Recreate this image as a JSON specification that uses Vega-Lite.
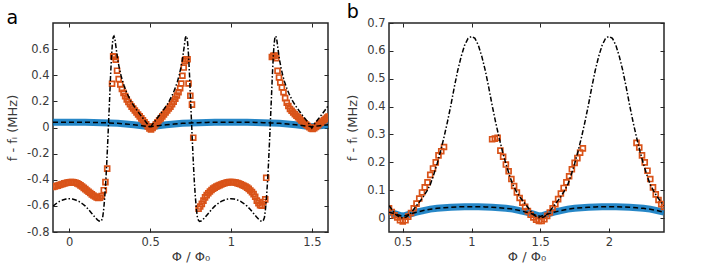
{
 "$schema": "https://vega.github.io/schema/vega-lite/v6.json",
 "background": "white",
 "padding": {"left": 5, "top": 2, "right": 5, "bottom": 2},
 "spacing": 15,
 "config": {
  "view": {"stroke": "#262626", "strokeWidth": 1.5},
  "axis": {"grid": false, "domain": false, "tickSize": -4, "tickColor": "#262626", "tickWidth": 1, "labelFont": "DejaVu Sans", "labelFontSize": 11.5, "labelColor": "#3a3a3a", "titleFont": "DejaVu Sans", "titleFontSize": 13, "titleFontWeight": "normal", "titleColor": "#3a3a3a", "labelPadding": 8, "labelExpr": "replace(format(datum.value, '~g'), '−', '-')"},
  "title": {"anchor": "start", "frame": "bounds", "fontSize": 19, "fontWeight": "normal", "font": "DejaVu Sans", "color": "black", "offset": -5}
 },
 "datasets": {
  "blueA": [
   {"x":-0.1,"y":0.04},{"x":-0.05,"y":0.041},{"x":0,"y":0.041},{"x":0.05,"y":0.041},{"x":0.1,"y":0.04},{"x":0.15,"y":0.039},{"x":0.2,"y":0.037},{"x":0.25,"y":0.035},{"x":0.3,"y":0.032},{"x":0.35,"y":0.027},{"x":0.4,"y":0.021},{"x":0.45,"y":0.014},{"x":0.5,"y":0.006},{"x":0.55,"y":0.014},{"x":0.6,"y":0.021},{"x":0.65,"y":0.027},{"x":0.7,"y":0.032},{"x":0.75,"y":0.035},{"x":0.8,"y":0.037},{"x":0.85,"y":0.039},{"x":0.9,"y":0.04},{"x":0.95,"y":0.041},{"x":1,"y":0.041},{"x":1.05,"y":0.041},{"x":1.1,"y":0.04},{"x":1.15,"y":0.039},{"x":1.2,"y":0.037},{"x":1.25,"y":0.035},{"x":1.3,"y":0.032},{"x":1.35,"y":0.027},{"x":1.4,"y":0.021},{"x":1.45,"y":0.014},{"x":1.5,"y":0.006},{"x":1.55,"y":0.014},{"x":1.6,"y":0.021}
  ],
  "theoryA": [
   {"x":-0.1,"y":-0.602},{"x":-0.08,"y":-0.582},{"x":-0.06,"y":-0.566},{"x":-0.04,"y":-0.555},{"x":-0.02,"y":-0.548},{"x":0,"y":-0.545},{"x":0.02,"y":-0.548},{"x":0.04,"y":-0.555},{"x":0.06,"y":-0.566},{"x":0.08,"y":-0.582},{"x":0.1,"y":-0.602},{"x":0.12,"y":-0.628},{"x":0.14,"y":-0.658},{"x":0.16,"y":-0.688},{"x":0.175,"y":-0.707},{"x":0.185,"y":-0.716},{"x":0.193,"y":-0.719},{"x":0.2,"y":-0.713},{"x":0.207,"y":-0.69},{"x":0.214,"y":-0.62},{"x":0.22,"y":-0.53},{"x":0.226,"y":-0.42},{"x":0.232,"y":-0.28},{"x":0.238,"y":-0.12},{"x":0.244,"y":0.05},{"x":0.25,"y":0.22},{"x":0.256,"y":0.4},{"x":0.262,"y":0.55},{"x":0.267,"y":0.64},{"x":0.272,"y":0.69},{"x":0.277,"y":0.7},{"x":0.282,"y":0.685},{"x":0.29,"y":0.61},{"x":0.3,"y":0.52},{"x":0.31,"y":0.455},{"x":0.32,"y":0.4},{"x":0.33,"y":0.355},{"x":0.34,"y":0.318},{"x":0.35,"y":0.285},{"x":0.36,"y":0.256},{"x":0.37,"y":0.23},{"x":0.38,"y":0.206},{"x":0.39,"y":0.185},{"x":0.4,"y":0.165},{"x":0.42,"y":0.13},{"x":0.44,"y":0.097},{"x":0.46,"y":0.065},{"x":0.48,"y":0.033},{"x":0.49,"y":0.016},{"x":0.5,"y":-0.004},
   {"x":0.51,"y":0.016},{"x":0.52,"y":0.033},{"x":0.54,"y":0.065},{"x":0.56,"y":0.097},{"x":0.58,"y":0.13},{"x":0.6,"y":0.165},{"x":0.61,"y":0.185},{"x":0.62,"y":0.206},{"x":0.63,"y":0.23},{"x":0.64,"y":0.256},{"x":0.65,"y":0.285},{"x":0.66,"y":0.318},{"x":0.67,"y":0.355},{"x":0.68,"y":0.4},{"x":0.69,"y":0.455},{"x":0.7,"y":0.52},{"x":0.71,"y":0.61},{"x":0.718,"y":0.685},{"x":0.723,"y":0.7},{"x":0.728,"y":0.69},{"x":0.733,"y":0.64},{"x":0.738,"y":0.55},{"x":0.744,"y":0.4},{"x":0.75,"y":0.22},{"x":0.756,"y":0.05},{"x":0.762,"y":-0.12},{"x":0.768,"y":-0.28},{"x":0.774,"y":-0.42},{"x":0.78,"y":-0.53},{"x":0.786,"y":-0.62},{"x":0.793,"y":-0.69},{"x":0.8,"y":-0.713},{"x":0.807,"y":-0.719},{"x":0.815,"y":-0.716},{"x":0.825,"y":-0.707},{"x":0.84,"y":-0.688},{"x":0.86,"y":-0.658},{"x":0.88,"y":-0.628},{"x":0.9,"y":-0.602},{"x":0.92,"y":-0.582},{"x":0.94,"y":-0.566},{"x":0.96,"y":-0.555},{"x":0.98,"y":-0.548},{"x":1,"y":-0.545},
   {"x":1.02,"y":-0.548},{"x":1.04,"y":-0.555},{"x":1.06,"y":-0.566},{"x":1.08,"y":-0.582},{"x":1.1,"y":-0.602},{"x":1.12,"y":-0.628},{"x":1.14,"y":-0.658},{"x":1.16,"y":-0.688},{"x":1.175,"y":-0.707},{"x":1.185,"y":-0.716},{"x":1.193,"y":-0.719},{"x":1.2,"y":-0.713},{"x":1.207,"y":-0.69},{"x":1.214,"y":-0.62},{"x":1.22,"y":-0.53},{"x":1.226,"y":-0.42},{"x":1.232,"y":-0.28},{"x":1.238,"y":-0.12},{"x":1.244,"y":0.05},{"x":1.25,"y":0.22},{"x":1.256,"y":0.4},{"x":1.262,"y":0.55},{"x":1.267,"y":0.64},{"x":1.272,"y":0.69},{"x":1.277,"y":0.7},{"x":1.282,"y":0.685},{"x":1.29,"y":0.61},{"x":1.3,"y":0.52},{"x":1.31,"y":0.455},{"x":1.32,"y":0.4},{"x":1.33,"y":0.355},{"x":1.34,"y":0.318},{"x":1.35,"y":0.285},{"x":1.36,"y":0.256},{"x":1.37,"y":0.23},{"x":1.38,"y":0.206},{"x":1.39,"y":0.185},{"x":1.4,"y":0.165},{"x":1.42,"y":0.13},{"x":1.44,"y":0.097},{"x":1.46,"y":0.065},{"x":1.48,"y":0.033},{"x":1.49,"y":0.016},{"x":1.5,"y":-0.004},{"x":1.51,"y":0.016},{"x":1.52,"y":0.033},{"x":1.54,"y":0.065},{"x":1.56,"y":0.097},{"x":1.58,"y":0.13},{"x":1.6,"y":0.165}
  ],
  "orangeA": [
   {"x":-0.1,"y":-0.455},{"x":-0.09,"y":-0.452},{"x":-0.08,"y":-0.448},{"x":-0.07,"y":-0.445},{"x":-0.06,"y":-0.44},{"x":-0.05,"y":-0.436},{"x":-0.04,"y":-0.432},{"x":-0.03,"y":-0.428},{"x":-0.02,"y":-0.425},{"x":-0.01,"y":-0.422},{"x":0,"y":-0.42},{"x":0.01,"y":-0.418},{"x":0.02,"y":-0.418},{"x":0.03,"y":-0.42},{"x":0.04,"y":-0.423},{"x":0.05,"y":-0.428},{"x":0.06,"y":-0.435},{"x":0.07,"y":-0.443},{"x":0.08,"y":-0.452},{"x":0.09,"y":-0.462},{"x":0.1,"y":-0.472},{"x":0.11,"y":-0.482},{"x":0.12,"y":-0.492},{"x":0.13,"y":-0.502},{"x":0.14,"y":-0.512},{"x":0.15,"y":-0.52},{"x":0.16,"y":-0.528},{"x":0.17,"y":-0.535},{"x":0.18,"y":-0.54},{"x":0.19,"y":-0.538},
   {"x":0.2,"y":-0.525},{"x":0.214,"y":-0.48},{"x":0.224,"y":-0.418},{"x":0.235,"y":-0.315},
   {"x":0.265,"y":0.335},{"x":0.272,"y":0.545},{"x":0.28,"y":0.54},{"x":0.288,"y":0.52},{"x":0.296,"y":0.435},{"x":0.306,"y":0.37},{"x":0.316,"y":0.33},{"x":0.326,"y":0.295},{"x":0.336,"y":0.265},{"x":0.346,"y":0.24},{"x":0.356,"y":0.215},{"x":0.366,"y":0.195},{"x":0.376,"y":0.178},{"x":0.386,"y":0.16},{"x":0.396,"y":0.145},{"x":0.406,"y":0.13},{"x":0.416,"y":0.115},{"x":0.426,"y":0.1},{"x":0.436,"y":0.085},{"x":0.446,"y":0.07},{"x":0.456,"y":0.055},{"x":0.466,"y":0.04},{"x":0.476,"y":0.025},{"x":0.486,"y":0.008},{"x":0.496,"y":-0.008},{"x":0.506,"y":-0.014},{"x":0.516,"y":-0.004},{"x":0.526,"y":0.01},{"x":0.536,"y":0.025},{"x":0.546,"y":0.04},{"x":0.556,"y":0.055},{"x":0.566,"y":0.07},{"x":0.576,"y":0.085},{"x":0.586,"y":0.1},{"x":0.596,"y":0.115},{"x":0.606,"y":0.13},{"x":0.616,"y":0.145},{"x":0.626,"y":0.16},{"x":0.636,"y":0.178},{"x":0.646,"y":0.198},{"x":0.656,"y":0.22},{"x":0.666,"y":0.245},{"x":0.676,"y":0.27},{"x":0.686,"y":0.3},{"x":0.693,"y":0.337},{"x":0.7,"y":0.396},{"x":0.708,"y":0.459},{"x":0.714,"y":0.51},{"x":0.722,"y":0.523},{"x":0.732,"y":0.523},{"x":0.738,"y":0.337},{"x":0.749,"y":0.243},{"x":0.759,"y":0.175},{"x":0.767,"y":-0.078},
   {"x":0.8,"y":-0.622},{"x":0.81,"y":-0.605},{"x":0.82,"y":-0.585},{"x":0.83,"y":-0.56},{"x":0.84,"y":-0.535},{"x":0.85,"y":-0.518},{"x":0.86,"y":-0.503},{"x":0.87,"y":-0.49},{"x":0.88,"y":-0.478},{"x":0.89,"y":-0.468},{"x":0.9,"y":-0.46},{"x":0.91,"y":-0.453},{"x":0.92,"y":-0.447},{"x":0.93,"y":-0.441},{"x":0.94,"y":-0.436},{"x":0.95,"y":-0.431},{"x":0.96,"y":-0.427},{"x":0.97,"y":-0.423},{"x":0.98,"y":-0.42},{"x":0.99,"y":-0.418},{"x":1,"y":-0.417},{"x":1.01,"y":-0.417},{"x":1.02,"y":-0.419},{"x":1.03,"y":-0.422},{"x":1.04,"y":-0.426},{"x":1.05,"y":-0.43},{"x":1.06,"y":-0.435},{"x":1.07,"y":-0.44},{"x":1.08,"y":-0.446},{"x":1.09,"y":-0.452},{"x":1.1,"y":-0.46},{"x":1.11,"y":-0.47},{"x":1.12,"y":-0.482},{"x":1.13,"y":-0.495},{"x":1.14,"y":-0.51},{"x":1.15,"y":-0.53},{"x":1.16,"y":-0.56},{"x":1.17,"y":-0.58},{"x":1.18,"y":-0.595},{"x":1.19,"y":-0.598},{"x":1.2,"y":-0.57},{"x":1.212,"y":-0.55},{"x":1.218,"y":-0.385},
   {"x":1.253,"y":0.54},{"x":1.262,"y":0.548},{"x":1.27,"y":0.55},{"x":1.28,"y":0.53},{"x":1.288,"y":0.434},{"x":1.297,"y":0.383},{"x":1.305,"y":0.345},{"x":1.315,"y":0.307},{"x":1.325,"y":0.27},{"x":1.335,"y":0.225},{"x":1.345,"y":0.19},{"x":1.355,"y":0.165},{"x":1.365,"y":0.142},{"x":1.375,"y":0.128},{"x":1.385,"y":0.115},{"x":1.395,"y":0.102},{"x":1.405,"y":0.09},{"x":1.415,"y":0.078},{"x":1.425,"y":0.066},{"x":1.435,"y":0.054},{"x":1.445,"y":0.042},{"x":1.455,"y":0.032},{"x":1.465,"y":0.022},{"x":1.475,"y":0.012},{"x":1.485,"y":0.002},{"x":1.495,"y":-0.008},{"x":1.505,"y":-0.012},{"x":1.515,"y":-0.006},{"x":1.525,"y":0.004},{"x":1.535,"y":0.014},{"x":1.545,"y":0.026},{"x":1.555,"y":0.036},{"x":1.565,"y":0.046},{"x":1.575,"y":0.056},{"x":1.585,"y":0.066},{"x":1.595,"y":0.076},{"x":1.603,"y":0.083}
  ],
  "blueB": [
   {"x":0.4,"y":0.021},{"x":0.45,"y":0.014},{"x":0.5,"y":0.006},{"x":0.55,"y":0.014},{"x":0.6,"y":0.021},{"x":0.65,"y":0.027},{"x":0.7,"y":0.032},{"x":0.75,"y":0.035},{"x":0.8,"y":0.037},{"x":0.85,"y":0.039},{"x":0.9,"y":0.04},{"x":0.95,"y":0.041},{"x":1,"y":0.041},{"x":1.05,"y":0.041},{"x":1.1,"y":0.04},{"x":1.15,"y":0.039},{"x":1.2,"y":0.037},{"x":1.25,"y":0.035},{"x":1.3,"y":0.032},{"x":1.35,"y":0.027},{"x":1.4,"y":0.021},{"x":1.45,"y":0.014},{"x":1.5,"y":0.006},{"x":1.55,"y":0.014},{"x":1.6,"y":0.021},{"x":1.65,"y":0.027},{"x":1.7,"y":0.032},{"x":1.75,"y":0.035},{"x":1.8,"y":0.037},{"x":1.85,"y":0.039},{"x":1.9,"y":0.04},{"x":1.95,"y":0.041},{"x":2,"y":0.041},{"x":2.05,"y":0.041},{"x":2.1,"y":0.04},{"x":2.15,"y":0.039},{"x":2.2,"y":0.037},{"x":2.25,"y":0.035},{"x":2.3,"y":0.032},{"x":2.35,"y":0.027},{"x":2.4,"y":0.021}
  ],
  "theoryB": [
   {"x":0.4,"y":0.045},{"x":0.425,"y":0.028},{"x":0.45,"y":0.012},{"x":0.475,"y":0.004},{"x":0.5,"y":0},{"x":0.525,"y":0.004},{"x":0.55,"y":0.012},{"x":0.575,"y":0.028},{"x":0.6,"y":0.045},{"x":0.625,"y":0.06},{"x":0.65,"y":0.077},{"x":0.675,"y":0.097},{"x":0.7,"y":0.12},{"x":0.725,"y":0.155},{"x":0.75,"y":0.195},{"x":0.775,"y":0.24},{"x":0.8,"y":0.29},{"x":0.825,"y":0.345},{"x":0.85,"y":0.405},{"x":0.875,"y":0.47},{"x":0.9,"y":0.53},{"x":0.925,"y":0.58},{"x":0.95,"y":0.62},{"x":0.975,"y":0.645},{"x":1,"y":0.652},{"x":1.025,"y":0.645},{"x":1.05,"y":0.62},{"x":1.075,"y":0.58},{"x":1.1,"y":0.53},{"x":1.125,"y":0.47},{"x":1.15,"y":0.405},{"x":1.175,"y":0.345},{"x":1.2,"y":0.29},{"x":1.225,"y":0.24},{"x":1.25,"y":0.195},{"x":1.275,"y":0.155},{"x":1.3,"y":0.12},{"x":1.325,"y":0.097},{"x":1.35,"y":0.077},{"x":1.375,"y":0.06},{"x":1.4,"y":0.045},{"x":1.425,"y":0.028},{"x":1.45,"y":0.012},{"x":1.475,"y":0.004},{"x":1.5,"y":0},{"x":1.525,"y":0.004},{"x":1.55,"y":0.012},{"x":1.575,"y":0.028},{"x":1.6,"y":0.045},{"x":1.625,"y":0.06},{"x":1.65,"y":0.077},{"x":1.675,"y":0.097},{"x":1.7,"y":0.12},{"x":1.725,"y":0.155},{"x":1.75,"y":0.195},{"x":1.775,"y":0.24},{"x":1.8,"y":0.29},{"x":1.825,"y":0.345},{"x":1.85,"y":0.405},{"x":1.875,"y":0.47},{"x":1.9,"y":0.53},{"x":1.925,"y":0.58},{"x":1.95,"y":0.62},{"x":1.975,"y":0.645},{"x":2,"y":0.652},{"x":2.025,"y":0.645},{"x":2.05,"y":0.62},{"x":2.075,"y":0.58},{"x":2.1,"y":0.53},{"x":2.125,"y":0.47},{"x":2.15,"y":0.405},{"x":2.175,"y":0.345},{"x":2.2,"y":0.29},{"x":2.225,"y":0.24},{"x":2.25,"y":0.195},{"x":2.275,"y":0.155},{"x":2.3,"y":0.12},{"x":2.325,"y":0.097},{"x":2.35,"y":0.077},{"x":2.375,"y":0.06},{"x":2.4,"y":0.045}
  ],
  "orangeB": [
   {"x":0.4,"y":0.035},{"x":0.42,"y":0.022},{"x":0.44,"y":0.01},{"x":0.46,"y":0.002},{"x":0.48,"y":-0.008},{"x":0.5,"y":-0.012},{"x":0.52,"y":-0.008},{"x":0.54,"y":0.005},{"x":0.56,"y":0.018},{"x":0.58,"y":0.035},{"x":0.6,"y":0.052},{"x":0.62,"y":0.07},{"x":0.64,"y":0.092},{"x":0.66,"y":0.11},{"x":0.68,"y":0.128},{"x":0.7,"y":0.155},{"x":0.72,"y":0.178},{"x":0.74,"y":0.2},{"x":0.76,"y":0.225},{"x":0.78,"y":0.24},{"x":0.8,"y":0.255},
   {"x":1.15,"y":0.283},{"x":1.17,"y":0.285},{"x":1.19,"y":0.288},{"x":1.21,"y":0.242},{"x":1.23,"y":0.22},{"x":1.25,"y":0.192},{"x":1.27,"y":0.168},{"x":1.29,"y":0.14},{"x":1.31,"y":0.115},{"x":1.33,"y":0.092},{"x":1.35,"y":0.072},{"x":1.37,"y":0.055},{"x":1.39,"y":0.04},{"x":1.41,"y":0.025},{"x":1.43,"y":0.012},{"x":1.45,"y":0.002},{"x":1.47,"y":-0.006},{"x":1.49,"y":-0.01},{"x":1.51,"y":-0.01},{"x":1.53,"y":-0.004},{"x":1.55,"y":0.008},{"x":1.57,"y":0.02},{"x":1.59,"y":0.035},{"x":1.61,"y":0.05},{"x":1.63,"y":0.068},{"x":1.65,"y":0.088},{"x":1.67,"y":0.108},{"x":1.69,"y":0.128},{"x":1.71,"y":0.15},{"x":1.73,"y":0.175},{"x":1.75,"y":0.198},{"x":1.77,"y":0.215},{"x":1.79,"y":0.235},{"x":1.81,"y":0.25},
   {"x":2.2,"y":0.27},{"x":2.22,"y":0.253},{"x":2.24,"y":0.225},{"x":2.26,"y":0.2},{"x":2.28,"y":0.17},{"x":2.3,"y":0.14},{"x":2.32,"y":0.11},{"x":2.34,"y":0.085},{"x":2.36,"y":0.065},{"x":2.38,"y":0.05},{"x":2.4,"y":0.04}
  ]
 },
 "hconcat": [
  {
   "width": 275, "height": 209,
   "title": {"text": "a"},
   "resolve": {"axis": {"x": "independent", "y": "independent"}},
   "layer": [
    {"data": {"name": "blueA"},
     "mark": {"type": "line", "color": "#0072BD", "strokeWidth": 7, "opacity": 0.85, "clip": true},
     "encoding": {
      "x": {"field": "x", "type": "quantitative", "scale": {"domain": [-0.1, 1.6], "nice": false, "zero": false},
            "axis": {"values": [0, 0.5, 1, 1.5], "title": "Φ / Φ₀", "titlePadding": 3}},
      "y": {"field": "y", "type": "quantitative", "scale": {"domain": [-0.8, 0.8], "nice": false, "zero": false},
            "axis": {"values": [-0.8, -0.6, -0.4, -0.2, 0, 0.2, 0.4, 0.6], "title": "f - fᵢ (MHz)", "titlePadding": 7}}
     }},
    {"data": {"name": "orangeA"},
     "mark": {"type": "point", "shape": "square", "filled": false, "color": "#D95319", "size": 24, "strokeWidth": 1.7, "opacity": 1, "clip": true},
     "encoding": {
      "x": {"field": "x", "type": "quantitative", "axis": {"orient": "top", "values": [0, 0.5, 1, 1.5], "labels": false, "title": null}},
      "y": {"field": "y", "type": "quantitative", "axis": {"orient": "right", "values": [-0.8, -0.6, -0.4, -0.2, 0, 0.2, 0.4, 0.6], "labels": false, "title": null}}
     }},
    {"data": {"name": "blueA"},
     "mark": {"type": "line", "color": "black", "strokeWidth": 1.5, "strokeDash": [5, 3], "clip": true},
     "encoding": {"x": {"field": "x", "type": "quantitative", "axis": null}, "y": {"field": "y", "type": "quantitative", "axis": null}}},
    {"data": {"name": "theoryA"},
     "mark": {"type": "line", "color": "black", "strokeWidth": 1.5, "strokeDash": [5, 2, 1.5, 2], "clip": true},
     "encoding": {"x": {"field": "x", "type": "quantitative", "axis": null}, "y": {"field": "y", "type": "quantitative", "axis": null}}}
   ]
  },
  {
   "width": 275, "height": 209,
   "title": {"text": "b"},
   "resolve": {"axis": {"x": "independent", "y": "independent"}},
   "layer": [
    {"data": {"name": "blueB"},
     "mark": {"type": "line", "color": "#0072BD", "strokeWidth": 7, "opacity": 0.85, "clip": true},
     "encoding": {
      "x": {"field": "x", "type": "quantitative", "scale": {"domain": [0.4, 2.4], "nice": false, "zero": false},
            "axis": {"values": [0.5, 1, 1.5, 2], "title": "Φ / Φ₀", "titlePadding": 3}},
      "y": {"field": "y", "type": "quantitative", "scale": {"domain": [-0.05, 0.7], "nice": false, "zero": false},
            "axis": {"values": [0, 0.1, 0.2, 0.3, 0.4, 0.5, 0.6, 0.7], "title": "f - fᵢ (MHz)", "titlePadding": 7}}
     }},
    {"data": {"name": "orangeB"},
     "mark": {"type": "point", "shape": "square", "filled": false, "color": "#D95319", "size": 24, "strokeWidth": 1.7, "opacity": 1, "clip": true},
     "encoding": {
      "x": {"field": "x", "type": "quantitative", "axis": {"orient": "top", "values": [0.5, 1, 1.5, 2], "labels": false, "title": null}},
      "y": {"field": "y", "type": "quantitative", "axis": {"orient": "right", "values": [0, 0.1, 0.2, 0.3, 0.4, 0.5, 0.6, 0.7], "labels": false, "title": null}}
     }},
    {"data": {"name": "blueB"},
     "mark": {"type": "line", "color": "black", "strokeWidth": 1.5, "strokeDash": [5, 3], "clip": true},
     "encoding": {"x": {"field": "x", "type": "quantitative", "axis": null}, "y": {"field": "y", "type": "quantitative", "axis": null}}},
    {"data": {"name": "theoryB"},
     "mark": {"type": "line", "color": "black", "strokeWidth": 1.5, "strokeDash": [5, 2, 1.5, 2], "clip": true},
     "encoding": {"x": {"field": "x", "type": "quantitative", "axis": null}, "y": {"field": "y", "type": "quantitative", "axis": null}}}
   ]
  }
 ]
}
